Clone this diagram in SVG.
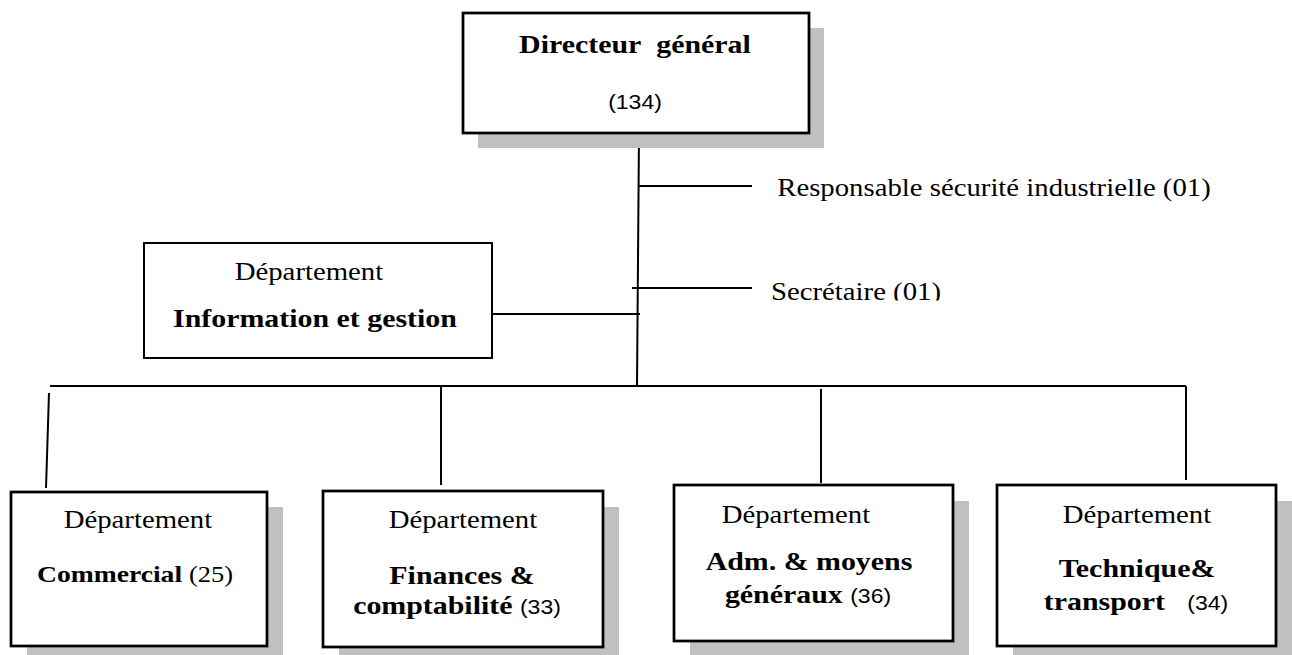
<svg xmlns="http://www.w3.org/2000/svg" width="1292" height="655" viewBox="0 0 1292 655">
  <style>
    .box { fill: #ffffff; stroke: #000000; stroke-width: 2.75; }
    .box-thin { fill: #ffffff; stroke: #000000; stroke-width: 2; }
    .shadow { fill: #c0c0c0; stroke: none; }
    .link { stroke: #000000; stroke-width: 2; fill: none; }
    text { fill: #000000; text-anchor: middle; transform-box: fill-box; transform-origin: center; transform: scaleX(1.15); }
    .serif { font-family: "Liberation Serif", "Times New Roman", serif; font-size: 25px; }
    .bold { font-family: "Liberation Serif", "Times New Roman", serif; font-size: 26px; font-weight: bold; }
    .bold-sm { font-family: "Liberation Serif", "Times New Roman", serif; font-size: 24px; font-weight: bold; }
    .num { font-family: "Liberation Sans", Arial, sans-serif; font-size: 20px; font-weight: normal; }
    .numserif { font-family: "Liberation Serif", "Times New Roman", serif; font-size: 23px; font-weight: normal; }
  </style>
  <defs>
    <!-- the secretary label sits in a text frame that trims its lower edge -->
    <clipPath id="clip-secretaire">
      <rect x="740" y="270" width="260" height="30.5"/>
    </clipPath>
  </defs>

  <rect width="1292" height="655" fill="#ffffff"/>

  <!-- connectors -->
  <g id="connectors">
    <line class="link" x1="639" y1="133" x2="637" y2="386"/>
    <line class="link" x1="639" y1="186" x2="752" y2="186"/>
    <line class="link" x1="632" y1="288" x2="752" y2="288"/>
    <line class="link" x1="493" y1="314" x2="640" y2="314"/>
    <line class="link" x1="50" y1="386" x2="1186" y2="386"/>
    <line class="link" x1="49" y1="393" x2="46" y2="488"/>
    <line class="link" x1="441" y1="386" x2="441" y2="485"/>
    <line class="link" x1="821" y1="389" x2="821" y2="483"/>
    <line class="link" x1="1186" y1="386" x2="1186" y2="480"/>
  </g>

  <!-- top: general manager -->
  <g id="directeur">
    <rect class="shadow" x="478" y="28" width="346" height="120"/>
    <rect class="box" x="463" y="13" width="346" height="120"/>
    <text class="bold" x="635" y="53">Directeur&#160; général</text>
    <text class="num" x="635" y="109">(134)</text>
  </g>

  <!-- staff positions -->
  <g id="responsable">
    <text class="serif" x="994" y="196">Responsable sécurité industrielle (01)</text>
  </g>
  <g id="secretaire" clip-path="url(#clip-secretaire)">
    <text class="serif" x="856" y="300">Secrétaire (01)</text>
  </g>

  <!-- information department -->
  <g id="dept-information">
    <rect class="box-thin" x="144" y="243" width="348" height="115"/>
    <text class="serif" x="309" y="280">Département</text>
    <text class="bold" x="315" y="327">Information et gestion</text>
  </g>

  <!-- operational departments -->
  <g id="dept-commercial">
    <rect class="shadow" x="27" y="507" width="256" height="155"/>
    <rect class="box" x="11" y="492" width="256" height="154"/>
    <text class="serif" x="138" y="528">Département</text>
    <text class="bold-sm" x="135" y="582">Commercial <tspan class="numserif">(25)</tspan></text>
  </g>

  <g id="dept-finances">
    <rect class="shadow" x="339" y="507" width="280" height="155"/>
    <rect class="box" x="323" y="491" width="280" height="156"/>
    <text class="serif" x="463" y="528">Département</text>
    <text class="bold" x="462" y="584">Finances &amp;</text>
    <text class="bold" x="457" y="614">comptabilité <tspan class="num">(33)</tspan></text>
  </g>

  <g id="dept-administration">
    <rect class="shadow" x="690" y="501" width="279" height="160"/>
    <rect class="box" x="674" y="485" width="279" height="156"/>
    <text class="serif" x="796" y="523">Département</text>
    <text class="bold" x="809" y="570">Adm. &amp; moyens</text>
    <text class="bold" x="808" y="603">généraux <tspan class="num">(36)</tspan></text>
  </g>

  <g id="dept-technique">
    <rect class="shadow" x="1013" y="501" width="279" height="160"/>
    <rect class="box" x="997" y="485" width="279" height="161"/>
    <text class="serif" x="1137" y="523">Département</text>
    <text class="bold" x="1137" y="577">Technique&amp;</text>
    <text class="bold" x="1136" y="610">transport&#160;&#160; <tspan class="num">(34)</tspan></text>
  </g>
</svg>
